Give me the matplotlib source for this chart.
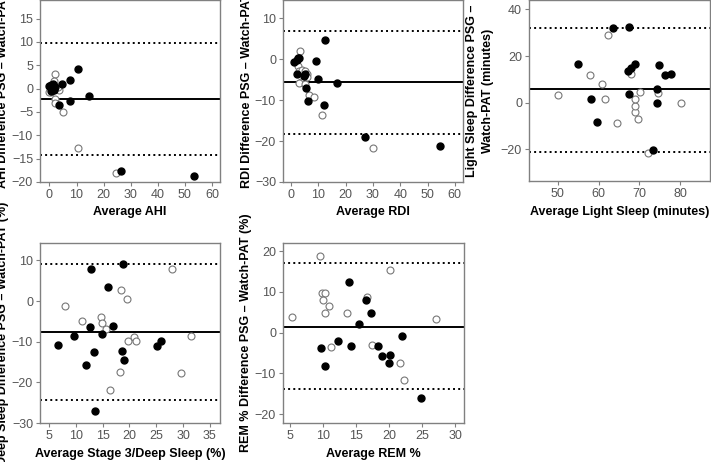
import numpy as np
import matplotlib
matplotlib.use('Agg')
import matplotlib.pyplot as plt

plt.rcParams['font.family'] = ['Liberation Sans', 'DejaVu Sans']

# ---- AHI ----
ahi_x_f = [0.0, 0.6, 0.4, 1.4, 1.0, 1.6, 2.0, 4.8, 7.7, 10.6, 3.6, 7.4, 14.6, 26.3, 53.3]
ahi_y_f = [0.6, -0.4, 0.8, 1.1, 0.15, -0.2, 0.3, 0.9, 1.8, 4.2, -3.5, -2.7, -1.5, -17.6, -18.7]
ahi_x_o = [2.0, 1.7, 0.6, 0.0, 2.1, 2.2, 3.5, 3.1, 1.6, 4.9, 10.5, 24.6]
ahi_y_o = [3.1, 1.7, -0.8, -0.7, -2.2, -3.1, -0.3, 0.4, 0.1, -5.1, -12.7, -18.0]
ahi_lines = [-2.2, 9.8, -14.3]

# ---- RDI ----
rdi_x_f = [1.0, 2.0, 2.6, 3.0, 2.1, 4.7, 5.2, 5.6, 6.2, 9.2, 10.0, 12.3, 12.1, 16.8, 27.2, 54.6]
rdi_y_f = [-0.6, -0.2, 0.2, 0.4, -3.7, -4.1, -3.6, -7.1, -10.1, -0.3, -4.9, 4.7, -11.2, -5.7, -19.0, -21.2]
rdi_x_o = [3.2, 2.5, 2.8, 4.0, 5.0, 5.9, 5.8, 3.7, 2.8, 5.2, 6.7, 8.3, 11.3, 30.0]
rdi_y_o = [2.1, -1.6, -2.8, -2.7, -2.9, -3.6, -4.3, -5.5, -5.9, -6.1, -8.7, -9.1, -13.5, -21.7]
rdi_lines = [-5.6, 6.8, -18.3]

# ---- Light sleep ----
lt_x_f = [54.9, 58.1, 59.5, 63.4, 67.4, 67.3, 67.9, 68.9, 67.5, 74.2, 74.3, 74.9, 76.2, 77.7, 73.3]
lt_y_f = [16.4, 1.7, -8.4, 31.9, 32.6, 13.6, 15.0, 16.4, 3.9, 6.1, 0.1, 16.1, 11.9, 12.4, -20.1]
lt_x_o = [50.0, 57.8, 60.9, 61.6, 62.3, 64.5, 68.0, 68.8, 69.0, 69.0, 69.6, 70.2, 74.5, 72.1, 80.2]
lt_y_o = [3.4, 11.9, 7.9, 1.7, 29.0, -8.7, 12.4, -4.0, -1.3, 1.7, -7.1, 4.7, 4.0, -21.7, -0.1]
lt_lines = [5.9, 32.0, -20.9]

# ---- Deep sleep ----
dp_x_f = [12.9, 18.8, 15.9, 12.7, 17.0, 14.8, 9.6, 6.7, 13.4, 18.6, 19.0, 11.8, 25.1, 25.8, 13.6]
dp_y_f = [7.8, 9.2, 3.4, -6.3, -6.1, -8.2, -8.7, -10.9, -12.6, -12.4, -14.5, -15.7, -11.1, -9.9, -27.1]
dp_x_o = [7.9, 11.2, 14.6, 14.8, 15.6, 18.5, 19.5, 19.7, 20.8, 21.2, 18.3, 16.3, 28.0, 29.7, 31.4]
dp_y_o = [-1.2, -5.0, -3.8, -5.4, -6.9, 2.8, 0.4, -9.9, -8.8, -9.9, -17.5, -21.8, 8.0, -17.6, -8.6]
dp_lines = [-7.7, 9.1, -24.4]

# ---- REM ----
rem_x_f = [9.8, 10.3, 12.3, 13.9, 14.2, 15.5, 16.5, 17.2, 18.4, 19.0, 20.2, 20.0, 22.0, 24.8]
rem_y_f = [-3.7, -8.3, -2.0, 12.4, -3.3, 2.0, 8.1, 4.7, -3.4, -5.8, -5.6, -7.4, -0.9, -16.1]
rem_x_o = [5.4, 9.6, 9.9, 10.4, 10.0, 11.0, 10.4, 13.7, 16.7, 11.2, 17.4, 20.1, 21.6, 22.2, 27.1]
rem_y_o = [3.9, 18.9, 9.6, 9.7, 8.0, 6.6, 4.8, 4.8, 8.8, -3.5, -3.0, 15.4, -7.5, -11.6, 3.4]
rem_lines = [1.4, 17.2, -13.9]

W, H = 711, 462
fig = plt.figure(figsize=(W / 100, H / 100), dpi=100)


def panel(px, w, ytop, ybot, xf, yf, xo, yo, lines, xlim, ylim, xticks, yticks,
          xlabel, ylabel, ylab_x):
    ax = fig.add_axes([px / W, (H - ybot) / H, w / W, (ybot - ytop) / H])
    ax.plot(xo, yo, 'o', mfc='white', mec='#777777', mew=0.8, ms=5, zorder=3)
    ax.plot(xf, yf, 'o', color='black', ms=5, zorder=4)
    ax.axhline(lines[0], color='black', lw=1.4, zorder=2)
    ax.axhline(lines[1], color='black', lw=1.4, ls=':', zorder=2)
    ax.axhline(lines[2], color='black', lw=1.4, ls=':', zorder=2)
    ax.set_xlim(xlim)
    ax.set_ylim(ylim)
    ax.set_xticks(xticks)
    ax.set_yticks(yticks)
    for s in ax.spines.values():
        s.set_color('#808080')
        s.set_linewidth(1.0)
    ax.tick_params(colors='#808080', labelcolor='#555555', labelsize=9,
                   length=3, width=0.8, pad=2)
    ax.set_xlabel(xlabel, fontsize=9, fontweight='bold', labelpad=4)
    ax.set_ylabel(ylabel, fontsize=9, fontweight='bold', linespacing=1.5)
    ax.yaxis.set_label_coords(ylab_x, 0.5)
    return ax


panel(40, 180, 0, 182, ahi_x_f, ahi_y_f, ahi_x_o, ahi_y_o, ahi_lines,
      (-3.5, 63), (-20, 19), range(0, 61, 10), range(-20, 16, 5),
      'Average AHI', 'AHI Difference PSG \u2013 Watch-PAT', -31 / 180)

panel(283, 180, 0, 182, rdi_x_f, rdi_y_f, rdi_x_o, rdi_y_o, rdi_lines,
      (-3, 63), (-30, 14.5), range(0, 61, 10), range(-30, 11, 10),
      'Average RDI', 'RDI Difference PSG \u2013 Watch-PAT', -30 / 180)

panel(529, 181, 0, 181, lt_x_f, lt_y_f, lt_x_o, lt_y_o, lt_lines,
      (42.9, 87.3), (-33.5, 44), range(50, 81, 10), range(-20, 41, 20),
      'Average Light Sleep (minutes)',
      'Light Sleep Difference PSG \u2013\nWatch-PAT (minutes)', -35 / 181)

panel(40, 180, 243, 423, dp_x_f, dp_y_f, dp_x_o, dp_y_o, dp_lines,
      (3.3, 36.9), (-30, 14.3), range(5, 36, 5), range(-30, 11, 10),
      'Average Stage 3/Deep Sleep (%)',
      'Deep Sleep Difference PSG \u2013 Watch-PAT (%)', -31 / 180)

panel(283, 181, 243, 423, rem_x_f, rem_y_f, rem_x_o, rem_y_o, rem_lines,
      (4.0, 31.3), (-22.2, 22), range(5, 31, 5), range(-20, 21, 10),
      'Average REM %', 'REM % Difference PSG \u2013 Watch-PAT (%)', -31 / 181)

fig.savefig('out.png', dpi=100)
